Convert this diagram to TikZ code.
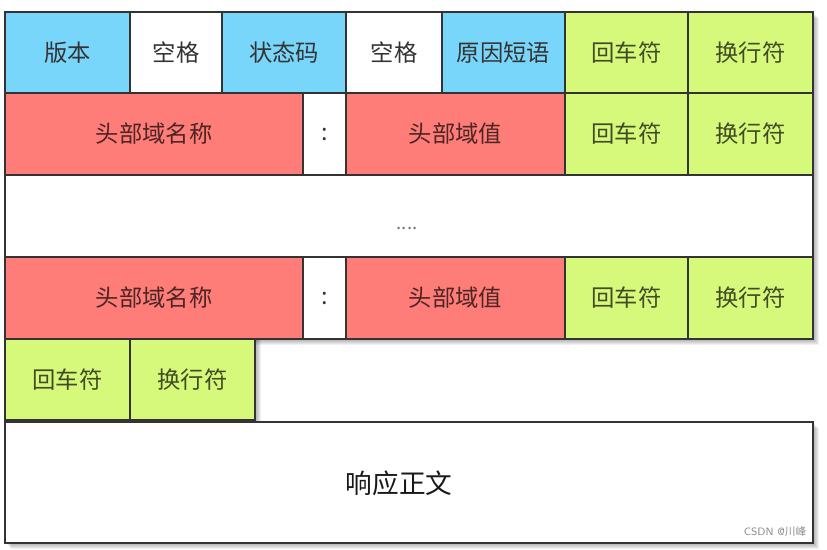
\documentclass[tikz,border=0pt]{standalone}
\usepackage{fontspec}
\newfontfamily\cjk{Noto Sans CJK SC}
\usepackage{tikz}

\definecolor{vblue}{HTML}{79D6FB}
\definecolor{hred}{HTML}{FF7D78}
\definecolor{lgreen}{HTML}{D7F97B}

\begin{document}
\begin{tikzpicture}[x=0.75pt, y=-0.75pt,
  cell/.style={draw=black!80, line width=1.3pt},
  bluecell/.style={cell, fill=vblue},
  whitecell/.style={cell, fill=white},
  redcell/.style={cell, fill=hred},
  greencell/.style={cell, fill=lgreen},
  txt/.style={font=\cjk\fontsize{17.5}{20}\selectfont, text=black!80},
  redtxt/.style={txt, text=hred!30!black},
  greentxt/.style={txt, text=lgreen!30!black},
  shade/.style={fill=black, opacity=0.06}]
\useasboundingbox (0,0) rectangle (827,549);

% shadows
\foreach \s in {1,...,6} {
  \fill[shade] (5+\s,12+\s) rectangle (813+\s,339+\s);
  \fill[shade] (5+\s,339) rectangle (255+\s,420+\s);
  \fill[shade] (5+\s,422+\s) rectangle (813+\s,543+\s);
}

% status line
\draw[bluecell]  (5,12)   rectangle (130,93);
\node[txt] (ver) at (67.5,52.5) {版本};
\draw[whitecell] (130,12) rectangle (222,93);
\node[txt] (sp1) at (176,52.5) {空格};
\draw[bluecell]  (222,12) rectangle (346,93);
\node[txt] (code) at (284,52.5) {状态码};
\draw[whitecell] (346,12) rectangle (442,93);
\node[txt] (sp2) at (394,52.5) {空格};
\draw[bluecell]  (442,12) rectangle (565,93);
\node[txt] (reason) at (503.5,52.5) {原因短语};
\draw[greencell] (565,12) rectangle (688,93);
\node[greentxt] (cr1) at (626.5,52.5) {回车符};
\draw[greencell] (688,12) rectangle (813,93);
\node[greentxt] (lf1) at (750.5,52.5) {换行符};

% first header
\draw[redcell]   (5,93)   rectangle (303,175);
\node[redtxt] (name1) at (154,134) {头部域名称};
\draw[whitecell] (303,93) rectangle (346,175);
\node[txt] (colon1) at (324.5,134) {:};
\draw[redcell]   (346,93) rectangle (565,175);
\node[redtxt] (val1) at (455.5,134) {头部域值};
\draw[greencell] (565,93) rectangle (688,175);
\node[greentxt] (cr2) at (626.5,134) {回车符};
\draw[greencell] (688,93) rectangle (813,175);
\node[greentxt] (lf2) at (750.5,134) {换行符};

% more headers
\draw[whitecell] (5,175) rectangle (813,257);
\node[txt, font=\cjk\fontsize{14}{16}\selectfont, text=black!55] (dots) at (407,228) {....};

% last header
\draw[redcell]   (5,257)   rectangle (303,339);
\node[redtxt] (name2) at (154,298) {头部域名称};
\draw[whitecell] (303,257) rectangle (346,339);
\node[txt] (colon2) at (324.5,298) {:};
\draw[redcell]   (346,257) rectangle (565,339);
\node[redtxt] (val2) at (455.5,298) {头部域值};
\draw[greencell] (565,257) rectangle (688,339);
\node[greentxt] (cr3) at (626.5,298) {回车符};
\draw[greencell] (688,257) rectangle (813,339);
\node[greentxt] (lf3) at (750.5,298) {换行符};

% empty line
\draw[greencell] (5,339)   rectangle (130,420);
\node[greentxt] (cr4) at (67.5,379.5) {回车符};
\draw[greencell] (130,339) rectangle (255,420);
\node[greentxt] (lf4) at (192.5,379.5) {换行符};

% body
\draw[whitecell] (5,422) rectangle (813,543);
\node[txt, font=\cjk\fontsize{20}{24}\selectfont, text=black!90] (body) at (399,483) {响应正文};

% mark
\node[font=\sffamily\fontsize{8}{9}\selectfont, text=black!45, anchor=south east] (mark) at (811,541) {CSDN @\cjk 川峰};
\end{tikzpicture}
\end{document}
